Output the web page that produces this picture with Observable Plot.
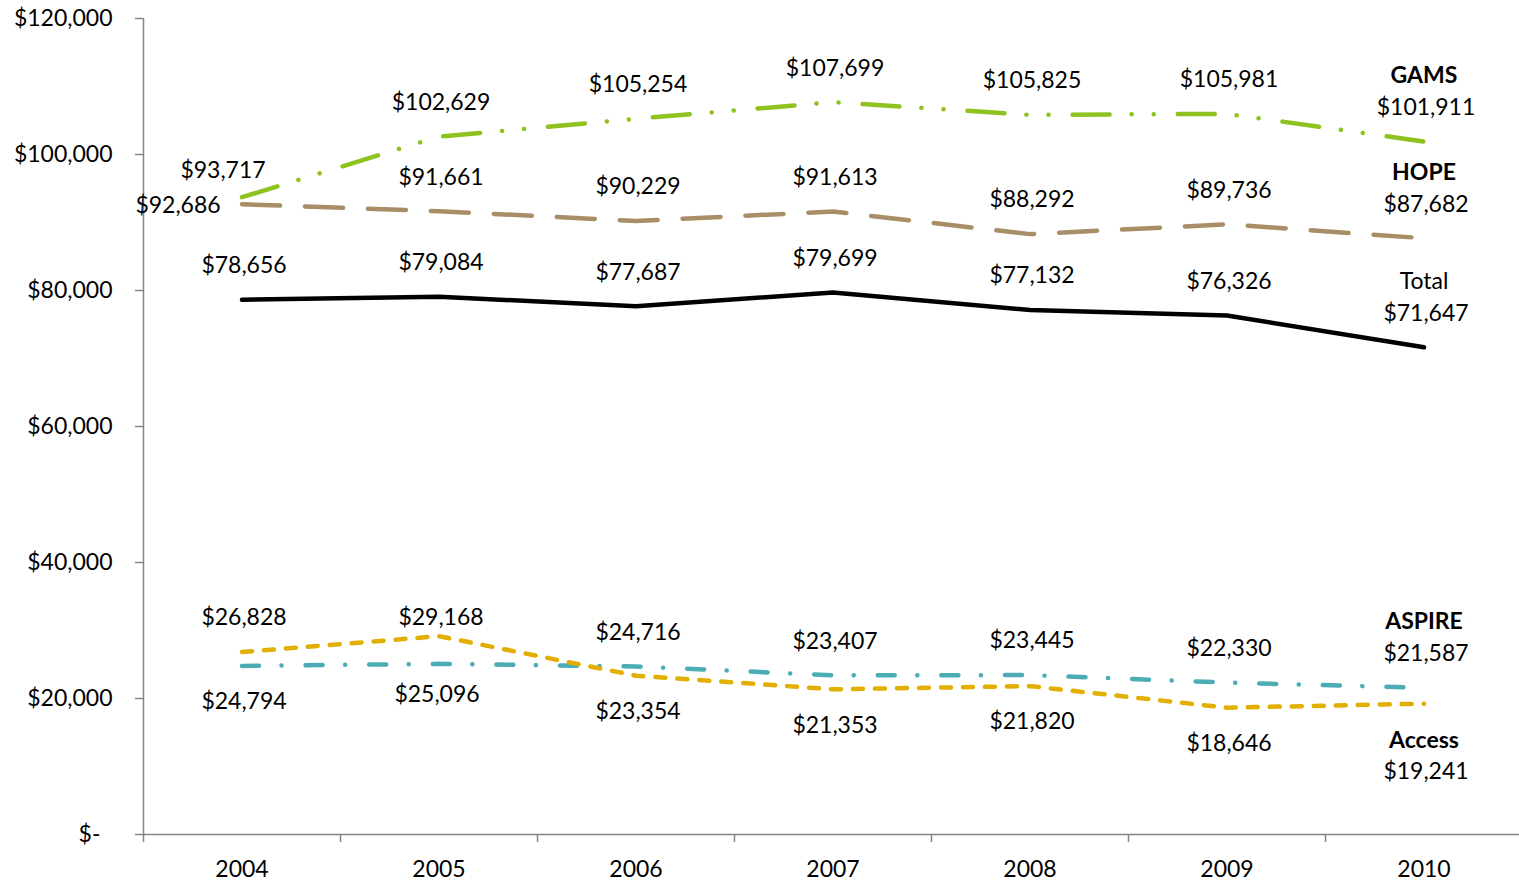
<!DOCTYPE html>
<html>
<head>
<meta charset="utf-8">
<script src="https://cdn.jsdelivr.net/npm/d3@7"></script>
<script src="https://cdn.jsdelivr.net/npm/@observablehq/plot@0.6"></script>
<style>
  html, body { margin: 0; padding: 0; background: #fff; }
  #chart svg { display: block; }
</style>
</head>
<body>
<div id="chart"></div>
<script>
// ---- data ----
const years = [2004, 2005, 2006, 2007, 2008, 2009, 2010];
const seriesNames = ["GAMS", "HOPE", "Total", "ASPIRE", "Access"];
const gams   = [93717, 102629, 105254, 107699, 105825, 105981, 101911];
const hope   = [92686, 91661, 90229, 91613, 88292, 89736, 87682];
const total  = [78656, 79084, 77687, 79699, 77132, 76326, 71647];
const aspire = [24794, 25096, 24716, 23407, 23445, 22330, 21587];
const access = [26828, 29168, 23354, 21353, 21820, 18646, 19241];
const yTicks = [0, 20000, 40000, 60000, 80000, 100000, 120000];

const valuesByName = {GAMS: gams, HOPE: hope, Total: total, ASPIRE: aspire, Access: access};

// ---- styles ----
const styles = {
  GAMS:   {stroke: "#8DC21F", dash: "37,22,0.1,22,0.1,24", bold: true},
  HOPE:   {stroke: "#A88E66", dash: "38,25", bold: true},
  Total:  {stroke: "#000000", dash: null, bold: false},
  ASPIRE: {stroke: "#4BACB6", dash: "17,22.5,0.1,24", bold: true},
  Access: {stroke: "#E2AE00", dash: "10,12", bold: true}
};
const axisColor = "#868686";
const font = "Lato, 'Open Sans', sans-serif";
const fs = 23;

const rows = seriesNames.flatMap(name =>
  valuesByName[name].map((v, i) => ({name, year: years[i], value: v})));

const fmtMoney = v => v === 0 ? "$-" : "$" + d3.format(",")(v);

// placement: lower of ASPIRE/Access goes below, everything else above
function isBelow(name, i) {
  if (name === "ASPIRE") return aspire[i] < access[i];
  if (name === "Access") return access[i] < aspire[i];
  return false;
}
// manual nudges of a few labels (as in the original)
const nudge = {
  "GAMS-2004": {dx: -21, dy: 7.5},
  "HOPE-2004": {dx: -66, dy: 35.5},
  "Access-2005": {dx: 0, dy: 15},
  "ASPIRE-2005": {dx: -4, dy: -5}
};

const marks = [];

// axes
marks.push(Plot.ruleX([2003.5], {y1: 0, y2: 120000, stroke: axisColor, strokeWidth: 1.5}));
marks.push(Plot.ruleY([0], {x1: 2003.5, x2: 2010.5, stroke: axisColor, strokeWidth: 1.5}));
marks.push(Plot.axisY({ticks: yTicks, tickSize: 8, tickFormat: () => "", label: null, stroke: axisColor, strokeWidth: 1.5}));
marks.push(Plot.axisX({ticks: d3.range(2003.5, 2011, 1), tickSize: 8, tickFormat: () => "", label: null, stroke: axisColor, strokeWidth: 1.5}));
marks.push(Plot.text(yTicks.filter(d => d !== 0), {
  x: () => 2003.5, y: d => d, text: fmtMoney, textAnchor: "end", dx: -31,
  fontSize: fs, fontFamily: font, fill: "#000"
}));
marks.push(Plot.text([0], {
  x: () => 2003.5, y: d => d, text: fmtMoney, textAnchor: "end", dx: -43,
  fontSize: fs, fontFamily: font, fill: "#000"
}));
marks.push(Plot.text(years, {
  x: d => d, y: () => 0, text: d => String(d), dy: 35,
  fontSize: fs, fontFamily: font, fill: "#000"
}));

// lines
for (const name of seriesNames) {
  const s = styles[name];
  marks.push(Plot.line(rows.filter(r => r.name === name), {
    x: "year", y: "value", stroke: s.stroke, strokeWidth: 4.5,
    strokeDasharray: s.dash || undefined, strokeLinecap: "round", strokeLinejoin: "round",
    curve: "linear"
  }));
}

// data labels
for (const name of seriesNames) {
  const s = styles[name];
  valuesByName[name].forEach((v, i) => {
    const year = years[i];
    const below = isBelow(name, i);
    const last = i === years.length - 1;
    const n = nudge[name + "-" + year] || {dx: 0, dy: 0};
    let dyVal = below ? (last ? 68 : 36) : -34;
    marks.push(Plot.text([{year, value: v}], {
      x: "year", y: "value", text: d => fmtMoney(d.value),
      dx: n.dx + 2, dy: dyVal + n.dy,
      fontSize: fs, fontFamily: font, fill: "#000"
    }));
    if (last) {
      marks.push(Plot.text([{year, value: v}], {
        x: "year", y: "value", text: () => name,
        dx: 0, dy: below ? 37 : -66,
        fontSize: fs, fontFamily: font, fill: "#000",
        fontWeight: s.bold ? "bold" : "normal"
      }));
    }
  });
}

const chart = Plot.plot({
  width: 1519,
  height: 880,
  marginTop: 18,
  marginBottom: 46,
  marginLeft: 143,
  marginRight: 0,
  style: {fontFamily: font, background: "#fff", overflow: "visible"},
  x: {domain: [2003.5, 2010.5], range: [143, 1522], label: null},
  y: {domain: [0, 120000], label: null},
  marks
});
document.getElementById("chart").appendChild(chart);
</script>
</body>
</html>
